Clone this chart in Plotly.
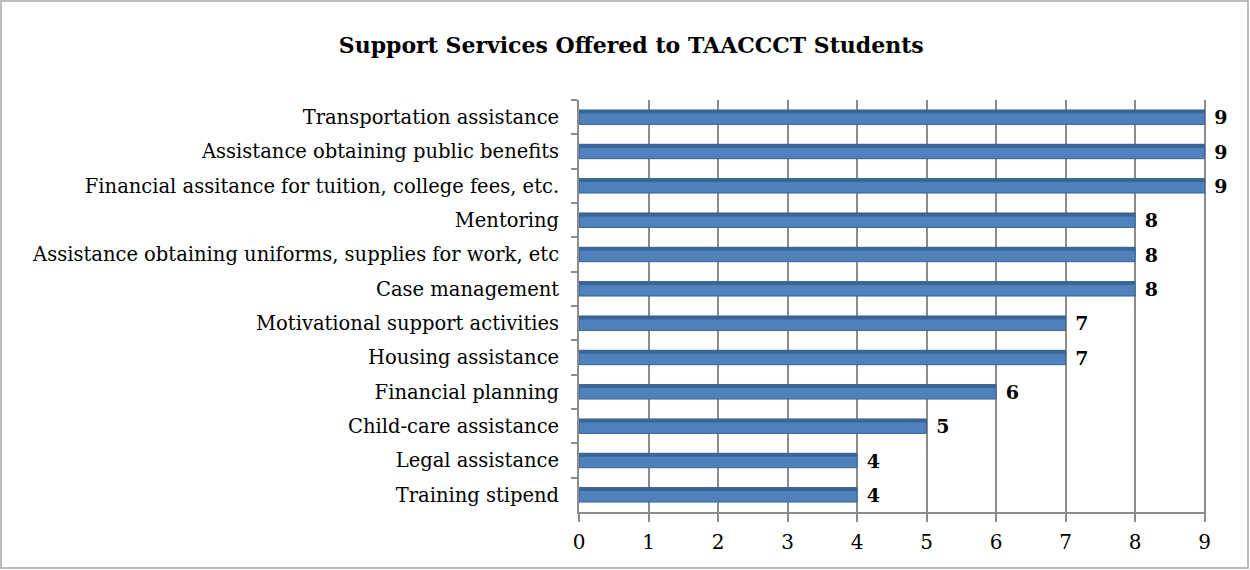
import plotly.graph_objects as go

categories = [
    "Transportation assistance",
    "Assistance obtaining public benefits",
    "Financial assitance for tuition, college fees, etc.",
    "Mentoring",
    "Assistance obtaining uniforms, supplies for work, etc",
    "Case management",
    "Motivational support activities",
    "Housing assistance",
    "Financial planning",
    "Child-care assistance",
    "Legal assistance",
    "Training stipend",
]
values = [9, 9, 9, 8, 8, 8, 7, 7, 6, 5, 4, 4]
x_ticks = [0, 1, 2, 3, 4, 5, 6, 7, 8, 9]

FONT = "DejaVu Serif"
W, H = 1250, 570
ML, MR, MT, MB = 579, 44, 100, 58
PW, PH = W - ML - MR, H - MT - MB

fig = go.Figure()
# main bar body
fig.add_trace(go.Bar(
    x=values, y=categories, orientation="h",
    width=0.42, offset=-0.21,
    marker=dict(color="#4F81BD", line=dict(color="#3B6394", width=1)),
    text=["\u00a0" + str(v) for v in values], textposition="outside", constraintext="none",
    textfont=dict(family=FONT, size=19, color="black", weight="bold"),
    cliponaxis=False, hoverinfo="skip", showlegend=False,
))
# darker top face strip (3D look)
fig.add_trace(go.Bar(
    x=values, y=categories, orientation="h",
    width=0.1, offset=-0.21,
    marker=dict(color="#3A6597", line=dict(width=0)),
    hoverinfo="skip", showlegend=False,
))

fig.update_layout(
    width=W, height=H,
    barmode="overlay",
    margin=dict(l=ML, r=MR, t=MT, b=MB, autoexpand=False),
    paper_bgcolor="white", plot_bgcolor="white",
    title=dict(
        text="<b>Support Services Offered to TAACCCT Students</b>",
        x=0.505, xref="container", xanchor="center",
        y=1 - 45 / H, yref="container", yanchor="middle",
        font=dict(family=FONT, size=22, color="black"),
    ),
    xaxis=dict(
        range=[0, 9.02], tickvals=x_ticks, ticktext=[str(t) for t in x_ticks],
        showgrid=True, gridcolor="#8C8C8C", gridwidth=2,
        showline=True, linecolor="#8C8C8C", linewidth=2,
        ticks="outside", ticklen=8, tickwidth=2, tickcolor="#8C8C8C",
        tickfont=dict(family=FONT, size=20, color="black"),
        ticklabelstandoff=3,
        zeroline=False, fixedrange=True,
    ),
    yaxis=dict(
        autorange="reversed", type="category", tickson="boundaries",
        showgrid=False, showline=True, linecolor="#8C8C8C", linewidth=2,
        ticks="outside", ticklen=6, tickwidth=2, tickcolor="#8C8C8C",
        tickfont=dict(family=FONT, size=19.5, color="black"),
        ticklabelstandoff=14, fixedrange=True,
    ),
    shapes=[dict(
        type="rect", xref="paper", yref="paper",
        x0=(1 - ML) / PW, x1=(W - 2 - ML) / PW,
        y0=(H - MB - (H - 2)) / PH, y1=(H - MB - 1) / PH,
        line=dict(color="#A6A6A6", width=1.5), fillcolor="rgba(0,0,0,0)",
        layer="below",
    )],
)

fig.write_html(
    "out.html",
    config={"displayModeBar": False},
    post_script="document.body.style.margin='0';document.body.style.overflow='hidden';",
)
